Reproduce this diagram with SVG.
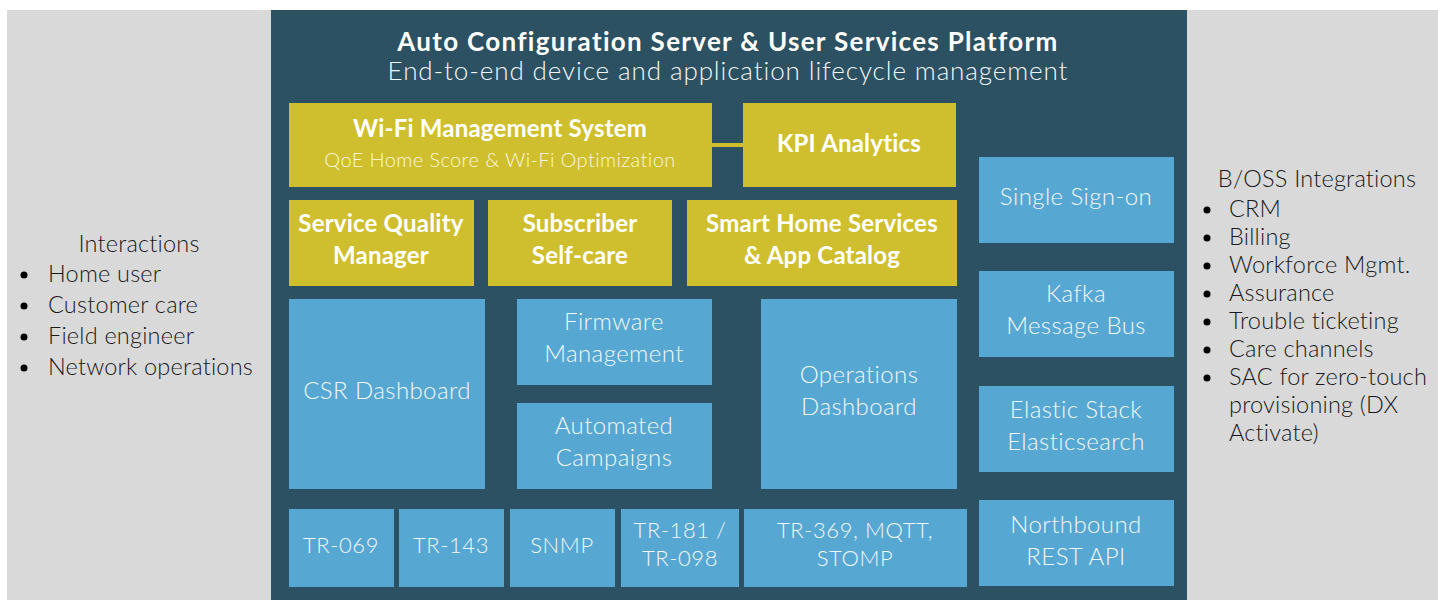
<svg xmlns="http://www.w3.org/2000/svg" width="1438" height="600" viewBox="0 0 1438 600">
<style>
.side{fill:#D9D9D9}
.main{fill:#2C5162}
.y{fill:#CFBF2E}
.b{fill:#57A7D3}
text{font-family:Lato,"Open Sans","Liberation Sans",sans-serif}
.tb{fill:#FFFFFF;font-weight:700;font-size:24px;letter-spacing:0.2px;text-anchor:middle}
.tl{fill:#F2F7FA;font-weight:300;font-size:24px;letter-spacing:0.4px;text-anchor:middle}
.ts{fill:#F2F7FA;font-weight:300;font-size:22px;letter-spacing:0.6px;text-anchor:middle}
.dk{fill:#1A1A1A;font-weight:300;font-size:23.5px;letter-spacing:0.2px}
.bul{fill:#000}
</style>
<rect width="1438" height="600" fill="#FFFFFF"/>
<g id="interactions">
<rect class="side" x="7" y="10" width="264" height="590"/>
<text class="dk" x="139" y="252" text-anchor="middle">Interactions</text>
<circle class="bul" cx="24" cy="275" r="3.5"/><text class="dk" x="48" y="282">Home user</text>
<circle class="bul" cx="24" cy="306" r="3.5"/><text class="dk" x="48" y="313">Customer care</text>
<circle class="bul" cx="24" cy="337" r="3.5"/><text class="dk" x="48" y="344">Field engineer</text>
<circle class="bul" cx="24" cy="368" r="3.5"/><text class="dk" x="48" y="375">Network operations</text>
</g>
<g id="platform">
<rect class="main" x="271" y="10" width="916" height="590"/>
<text x="728" y="51" fill="#FFFFFF" font-weight="700" font-size="26" letter-spacing="1.3" text-anchor="middle">Auto Configuration Server &amp; User Services Platform</text>
<text x="728" y="80" fill="#F2F7FA" font-weight="300" font-size="26" letter-spacing="0.9" text-anchor="middle">End-to-end device and application lifecycle management</text>
</g>
<g id="bossintegrations">
<rect class="side" x="1187" y="10" width="251" height="590"/>
<text class="dk" x="1317" y="187" text-anchor="middle">B/OSS Integrations</text>
<circle class="bul" cx="1207" cy="210" r="3.5"/><text class="dk" x="1229" y="217">CRM</text>
<circle class="bul" cx="1207" cy="238" r="3.5"/><text class="dk" x="1229" y="245">Billing</text>
<circle class="bul" cx="1207" cy="266" r="3.5"/><text class="dk" x="1229" y="273">Workforce Mgmt.</text>
<circle class="bul" cx="1207" cy="294" r="3.5"/><text class="dk" x="1229" y="301">Assurance</text>
<circle class="bul" cx="1207" cy="322" r="3.5"/><text class="dk" x="1229" y="329">Trouble ticketing</text>
<circle class="bul" cx="1207" cy="350" r="3.5"/><text class="dk" x="1229" y="357">Care channels</text>
<circle class="bul" cx="1207" cy="378" r="3.5"/><text class="dk" x="1229" y="385">SAC for zero-touch</text>
<text class="dk" x="1229" y="413">provisioning (DX</text>
<text class="dk" x="1229" y="441">Activate)</text>
</g>
<g id="connectors">
<line x1="712" y1="145" x2="743" y2="145" stroke="#CFBF2E" stroke-width="4"/>
</g>
<g id="wifi">
<rect class="y" x="289" y="103" width="423" height="84"/>
<text class="tb" x="500" y="137">Wi-Fi Management System</text>
<text x="500" y="167" fill="#FBF7DC" font-weight="300" font-size="20" letter-spacing="0.4" text-anchor="middle">QoE Home Score &amp; Wi-Fi Optimization</text>
</g>
<g id="kpi">
<rect class="y" x="743" y="103" width="213" height="84"/>
<text class="tb" x="849" y="152">KPI Analytics</text>
</g>
<g id="sqm">
<rect class="y" x="289" y="200" width="185" height="86"/>
<text class="tb" x="381" y="232">Service Quality</text>
<text class="tb" x="381" y="264">Manager</text>
</g>
<g id="selfcare">
<rect class="y" x="488" y="200" width="184" height="86"/>
<text class="tb" x="580" y="232">Subscriber</text>
<text class="tb" x="580" y="264">Self-care</text>
</g>
<g id="smarthome">
<rect class="y" x="687" y="200" width="270" height="86"/>
<text class="tb" x="822" y="232">Smart Home Services</text>
<text class="tb" x="822" y="264">&amp; App Catalog</text>
</g>
<g id="sso">
<rect class="b" x="979" y="157" width="195" height="86"/>
<text class="tl" x="1076" y="205">Single Sign-on</text>
</g>
<g id="kafka">
<rect class="b" x="979" y="271" width="195" height="86"/>
<text class="tl" x="1076" y="302">Kafka</text>
<text class="tl" x="1076" y="334">Message Bus</text>
</g>
<g id="elastic">
<rect class="b" x="979" y="386" width="195" height="86"/>
<text class="tl" x="1076" y="418">Elastic Stack</text>
<text class="tl" x="1076" y="450">Elasticsearch</text>
</g>
<g id="northbound">
<rect class="b" x="979" y="500" width="195" height="86"/>
<text class="tl" x="1076" y="533">Northbound</text>
<text class="tl" x="1076" y="565">REST API</text>
</g>
<g id="csr">
<rect class="b" x="289" y="299" width="196" height="190"/>
<text class="tl" x="387" y="399">CSR Dashboard</text>
</g>
<g id="firmware">
<rect class="b" x="517" y="299" width="195" height="86"/>
<text class="tl" x="614" y="330">Firmware</text>
<text class="tl" x="614" y="362">Management</text>
</g>
<g id="campaigns">
<rect class="b" x="517" y="403" width="195" height="86"/>
<text class="tl" x="614" y="434">Automated</text>
<text class="tl" x="614" y="466">Campaigns</text>
</g>
<g id="opsdash">
<rect class="b" x="761" y="299" width="196" height="190"/>
<text class="tl" x="859" y="383">Operations</text>
<text class="tl" x="859" y="415">Dashboard</text>
</g>
<g id="tr069">
<rect class="b" x="289" y="509" width="105" height="78"/>
<text class="ts" x="341" y="553">TR-069</text>
</g>
<g id="tr143">
<rect class="b" x="399" y="509" width="105" height="78"/>
<text class="ts" x="451" y="553">TR-143</text>
</g>
<g id="snmp">
<rect class="b" x="510" y="509" width="105" height="78"/>
<text class="ts" x="562" y="553">SNMP</text>
</g>
<g id="tr181">
<rect class="b" x="621" y="509" width="118" height="78"/>
<text class="ts" x="680" y="538">TR-181 /</text>
<text class="ts" x="680" y="566">TR-098</text>
</g>
<g id="tr369">
<rect class="b" x="744" y="509" width="223" height="78"/>
<text class="ts" x="855" y="538">TR-369, MQTT,</text>
<text class="ts" x="855" y="566">STOMP</text>
</g>
</svg>
